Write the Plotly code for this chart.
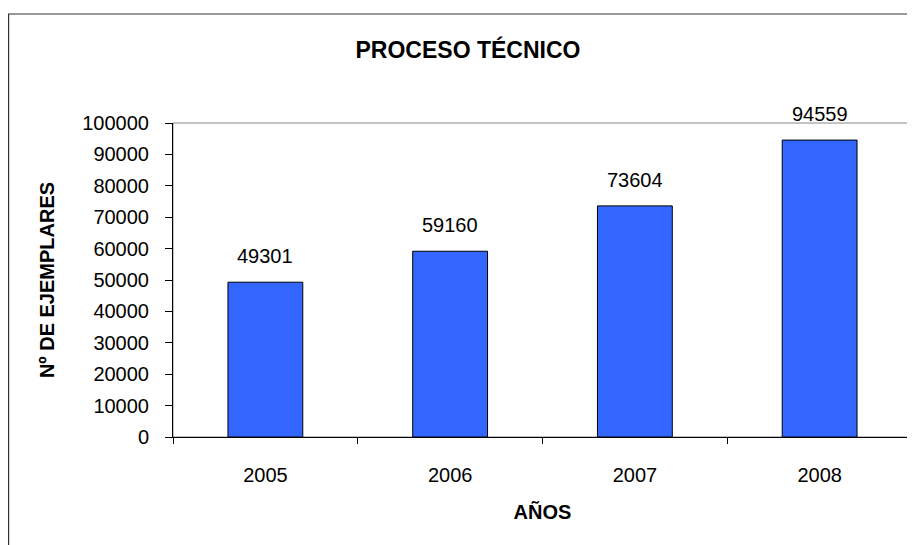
import plotly.graph_objects as go

years = ["2005", "2006", "2007", "2008"]
ejemplares = [49301, 59160, 73604, 94559]
y_ticks = [0, 10000, 20000, 30000, 40000, 50000, 60000, 70000, 80000, 90000, 100000]

FONT = "Liberation Sans, Arial, sans-serif"
# the page body adds an 8px offset, so the figure is drawn 8px smaller
W, H = 907, 537
L, R, T, B = 165, 2.5, 115, 108
pw = W - L - R
ph = H - T - B

fig = go.Figure()
fig.add_trace(go.Bar(
    x=years, y=ejemplares,
    marker=dict(color="#3366FF", line=dict(color="#000000", width=1)),
    width=0.405,
    showlegend=False,
))

for i, v in enumerate(ejemplares):
    fig.add_annotation(x=i, y=v, text=str(v), showarrow=False,
                       yanchor="bottom", yshift=13,
                       font=dict(family=FONT, size=20, color="#000000"))

# outer chart frame
fig.add_shape(type="rect", xref="paper", yref="paper",
              x0=(0.5 - L) / pw, x1=(W + 5 - L) / pw,
              y0=-(B + 10) / ph, y1=(H - B - 6) / ph,
              line=dict(color="#333333", width=1.2), layer="below")
# plot area frame
fig.add_shape(type="rect", xref="paper", yref="paper", x0=0, x1=1, y0=0, y1=1,
              line=dict(color="#888888", width=1), layer="below")

fig.update_layout(
    width=W, height=H,
    margin=dict(l=L, r=R, t=T, b=B),
    paper_bgcolor="white", plot_bgcolor="white",
    title=dict(text="<b>PROCESO TÉCNICO</b>", x=460 / W, xanchor="center",
               y=1 - 42 / H, yanchor="middle",
               font=dict(family=FONT, size=23, color="#000000")),
    font=dict(family=FONT, size=20, color="#000000"),
)
fig.update_xaxes(
    type="category", categoryorder="array", categoryarray=years,
    range=[-0.5, 3.5], tickson="boundaries", ticks="outside", ticklen=6,
    tickcolor="#000000", showline=True, linecolor="#000000", linewidth=1,
    showgrid=False, ticklabelstandoff=20, tickangle=0,
    tickfont=dict(family=FONT, size=20, color="#000000"),
    title=dict(text="<b>AÑOS</b>", standoff=19,
               font=dict(family=FONT, size=20, color="#000000")),
)
fig.update_yaxes(
    range=[0, 100000], tickvals=y_ticks, ticktext=[str(t) for t in y_ticks],
    ticks="outside", ticklen=7,
    tickcolor="#000000", showline=True, linecolor="#000000", linewidth=1,
    showgrid=False, zeroline=False, ticklabelstandoff=12,
    tickfont=dict(family=FONT, size=20, color="#000000"),
    title=dict(text="<b>Nº DE EJEMPLARES</b>", standoff=22,
               font=dict(family=FONT, size=20, color="#000000")),
)

fig.write_html("out.html")
